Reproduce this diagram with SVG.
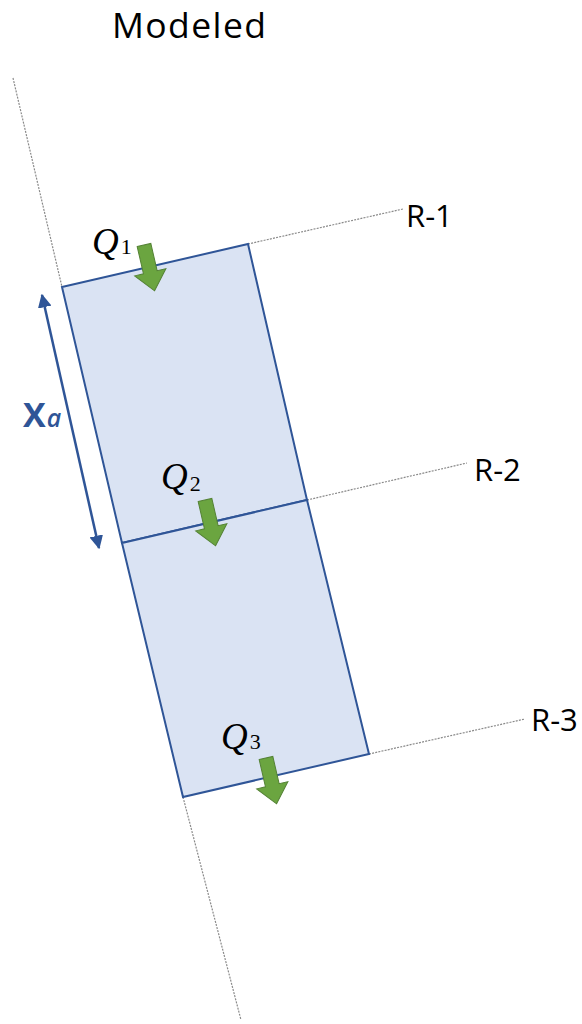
<svg xmlns="http://www.w3.org/2000/svg" width="582" height="1024" viewBox="0 0 582 1024">
<style>
.lbl{font-family:"Open Sans","Liberation Sans",sans-serif;fill:#000}
.q{font-family:"Liberation Serif","DejaVu Serif",serif;fill:#000}
.dot{stroke:#8a8a8a;stroke-width:1.2;stroke-dasharray:2 1.2;fill:none}
.cell{fill:#DAE3F3;stroke:#2F5597;stroke-width:2}
.flow{fill:#6BA540;stroke:#548235;stroke-width:1}
</style>
<defs>
<path id="garrow" d="M-7,0 L7,0 L7,28 L16,28 L0,47 L-16,28 L-7,28 Z"/>
<marker id="ah" viewBox="0 0 10 10" refX="9" refY="5" markerWidth="5.5" markerHeight="5.5" orient="auto-start-reverse" markerUnits="strokeWidth">
<path d="M0,0 L10,5 L0,10 Z" fill="#2F5597"/>
</marker>
</defs>
<rect width="582" height="1024" fill="#fff"/>
<g id="title"><text class="lbl" x="112" y="38" font-size="35.5" textLength="154">Modeled</text></g>
<g id="connectors">
<line class="dot" x1="13" y1="78" x2="62" y2="287"/>
<line class="dot" x1="183" y1="797" x2="241" y2="1020"/>
<line class="dot" x1="248" y1="244" x2="403" y2="209"/>
<line class="dot" x1="307" y1="500" x2="467" y2="463"/>
<line class="dot" x1="369" y1="754" x2="525" y2="719"/>
<line x1="42" y1="295" x2="99" y2="548" stroke="#2F5597" stroke-width="2.5" marker-start="url(#ah)" marker-end="url(#ah)"/>
</g>
<g id="cell1"><polygon class="cell" points="62,287 248,244 307,500 122,543"/></g>
<g id="cell2"><polygon class="cell" points="122,543 307,500 369,754 183,797"/></g>
<g id="R1"><text class="lbl" x="406" y="227" font-size="31">R-1</text></g>
<g id="R2"><text class="lbl" x="474" y="481" font-size="31">R-2</text></g>
<g id="R3"><text class="lbl" x="531" y="731" font-size="31">R-3</text></g>
<g id="Xa"><text class="lbl" x="23" y="427" font-size="34" font-weight="bold" style="fill:#2F5597">X<tspan font-size="25" font-style="italic" font-weight="600" dx="1">a</tspan></text></g>
<g id="Q1">
<text class="q" x="92" y="254" font-size="37" font-style="italic">Q<tspan font-size="22" font-style="normal" dx="2">1</tspan></text>
<use href="#garrow" class="flow" transform="translate(144,245) rotate(-13)"/>
</g>
<g id="Q2">
<text class="q" x="161" y="489" font-size="37" font-style="italic">Q<tspan font-size="22" font-style="normal" dx="2" dy="2">2</tspan></text>
<use href="#garrow" class="flow" transform="translate(205,500) rotate(-13)"/>
</g>
<g id="Q3">
<text class="q" x="221" y="749" font-size="37" font-style="italic">Q<tspan font-size="22" font-style="normal" dx="2">3</tspan></text>
<use href="#garrow" class="flow" transform="translate(266,758) rotate(-13)"/>
</g>
</svg>
